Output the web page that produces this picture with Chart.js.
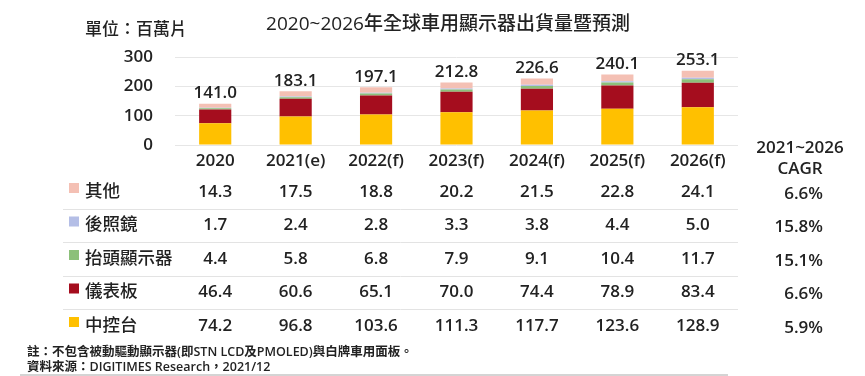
<!DOCTYPE html>
<html>
<head>
<meta charset="utf-8">
<script src="https://cdn.jsdelivr.net/npm/chart.js@4"></script>
<style>
  body { margin: 0; background: #fff; }
  #wrap { width: 865px; height: 376px; position: relative; }
</style>
</head>
<body>
<div id="wrap"><canvas id="displayChart" width="865" height="376"></canvas></div>
<script>
// 年份 / 類別
const years = ['2020', '2021(e)', '2022(f)', '2023(f)', '2024(f)', '2025(f)', '2026(f)'];

// 各類別出貨量 (百萬片)
const centerConsole = [74.2, 96.8, 103.6, 111.3, 117.7, 123.6, 128.9]; // 中控台
const cluster = [46.4, 60.6, 65.1, 70.0, 74.4, 78.9, 83.4];            // 儀表板
const hud = [4.4, 5.8, 6.8, 7.9, 9.1, 10.4, 11.7];                     // 抬頭顯示器
const mirror = [1.7, 2.4, 2.8, 3.3, 3.8, 4.4, 5.0];                    // 後照鏡
const others = [14.3, 17.5, 18.8, 20.2, 21.5, 22.8, 24.1];             // 其他
const totals = [141.0, 183.1, 197.1, 212.8, 226.6, 240.1, 253.1];

// 2021~2026 CAGR (表格由上而下)
const cagrLabels = ['6.6%', '15.8%', '15.1%', '6.6%', '5.9%'];

const yTicks = [0, 100, 200, 300];

const FONT = '"Open Sans", "Noto Sans CJK TC", sans-serif';
const NUM = '600 17px ' + FONT;  // 數字
const CJK = '500 17.5px ' + FONT; // 中文標籤
Chart.defaults.font.family = FONT;
Chart.defaults.color = '#222';

const datasets = [
    { label: '中控台', data: centerConsole, backgroundColor: '#FFC000' },
    { label: '儀表板', data: cluster, backgroundColor: '#A50D1E' },
    { label: '抬頭顯示器', data: hud, backgroundColor: '#8CC07A' },
    { label: '後照鏡', data: mirror, backgroundColor: '#B4BEE6' },
    { label: '其他', data: others, backgroundColor: '#F4C0B4' },
].map((d) => ({ ...d, barPercentage: 0.4, categoryPercentage: 1.0, borderWidth: 0 }));

// 文字、數據表、註解
const tablePlugin = {
    id: 'tablePlugin',
    afterDatasetsDraw(chart) {
        const ctx = chart.ctx;
        const xScale = chart.scales.x;
        const lastMeta = chart.getDatasetMeta(datasets.length - 1);
        ctx.save();

        // 總量標籤
        ctx.fillStyle = '#222';
        ctx.font = NUM;
        ctx.textAlign = 'center';
        ctx.textBaseline = 'bottom';
        totals.forEach((t, i) => {
            const bar = lastMeta.data[i];
            ctx.fillText(t.toFixed(1), bar.x, bar.y - 2);
        });

        // 標題與單位
        ctx.textBaseline = 'middle';
        ctx.font = '500 19px ' + FONT;
        ctx.fillText('2020~2026年全球車用顯示器出貨量暨預測', 448, 25);
        ctx.textAlign = 'left';
        ctx.font = '500 17px ' + FONT;
        ctx.fillText('單位：百萬片', 85, 30);

        // CAGR 標題
        ctx.textAlign = 'center';
        ctx.font = NUM;
        ctx.fillText('2021~2026', 800, 148);
        ctx.fillText('CAGR', 800, 169);

        // 表格
        const rows = datasets.slice().reverse();
        const rowY = (i) => 192 + i * 33.5;
        ctx.strokeStyle = '#e3e3e3';
        ctx.lineWidth = 1;
        for (let i = 0; i < rows.length - 1; i++) {
            const y = Math.round((rowY(i) + rowY(i + 1)) / 2) + 0.5;
            ctx.beginPath();
            ctx.moveTo(63, y);
            ctx.lineTo(xScale.right, y);
            ctx.stroke();
        }
        rows.forEach((ds, i) => {
            const y = rowY(i);
            ctx.fillStyle = ds.backgroundColor;
            ctx.fillRect(69, y - 9, 10, 10);
            ctx.fillStyle = '#222';
            ctx.textAlign = 'left';
            ctx.font = CJK;
            ctx.fillText(ds.label, 85, y);
            ctx.textAlign = 'center';
            ctx.font = NUM;
            ds.data.forEach((v, j) => {
                ctx.fillText(v.toFixed(1), xScale.getPixelForValue(j), y);
            });
            ctx.textAlign = 'right';
            ctx.fillText(cagrLabels[i], 823, y + 2);
        });

        // 註解
        ctx.textAlign = 'left';
        ctx.font = '600 12.5px ' + FONT;
        ctx.fillText('註：不包含被動驅動顯示器(即STN LCD及PMOLED)與白牌車用面板。', 27, 352);
        ctx.fillText('資料來源：DIGITIMES Research，2021/12', 27, 367);

        // 底線
        ctx.strokeStyle = '#d4d4d4';
        ctx.lineWidth = 2;
        ctx.beginPath();
        ctx.moveTo(20, 375);
        ctx.lineTo(728, 375);
        ctx.stroke();

        ctx.restore();
    },
};

new Chart(document.getElementById('displayChart').getContext('2d'), {
    type: 'bar',
    data: { labels: years, datasets: datasets },
    options: {
        responsive: false,
        animation: false,
        layout: { padding: { left: 0, top: 57, right: 127, bottom: 201 } },
        plugins: {
            legend: { display: false },
            tooltip: { enabled: false },
            title: { display: false },
        },
        scales: {
            x: {
                stacked: true,
                grid: { display: false, drawTicks: false },
                border: { display: false },
                ticks: { font: { size: 17, weight: '600' }, color: '#222', padding: 6 },
                afterFit: (scale) => { scale.height = 30; },
            },
            y: {
                stacked: true,
                min: 0,
                max: 300,
                afterBuildTicks: (scale) => { scale.ticks = yTicks.map((v) => ({ value: v })); },
                grid: { color: '#e6e6e6', drawTicks: false },
                border: { display: false },
                ticks: { font: { size: 17, weight: '600' }, color: '#222', padding: 22 },
                afterFit: (scale) => { scale.width = 175; },
            },
        },
    },
    plugins: [tablePlugin],
});
</script>
</body>
</html>
